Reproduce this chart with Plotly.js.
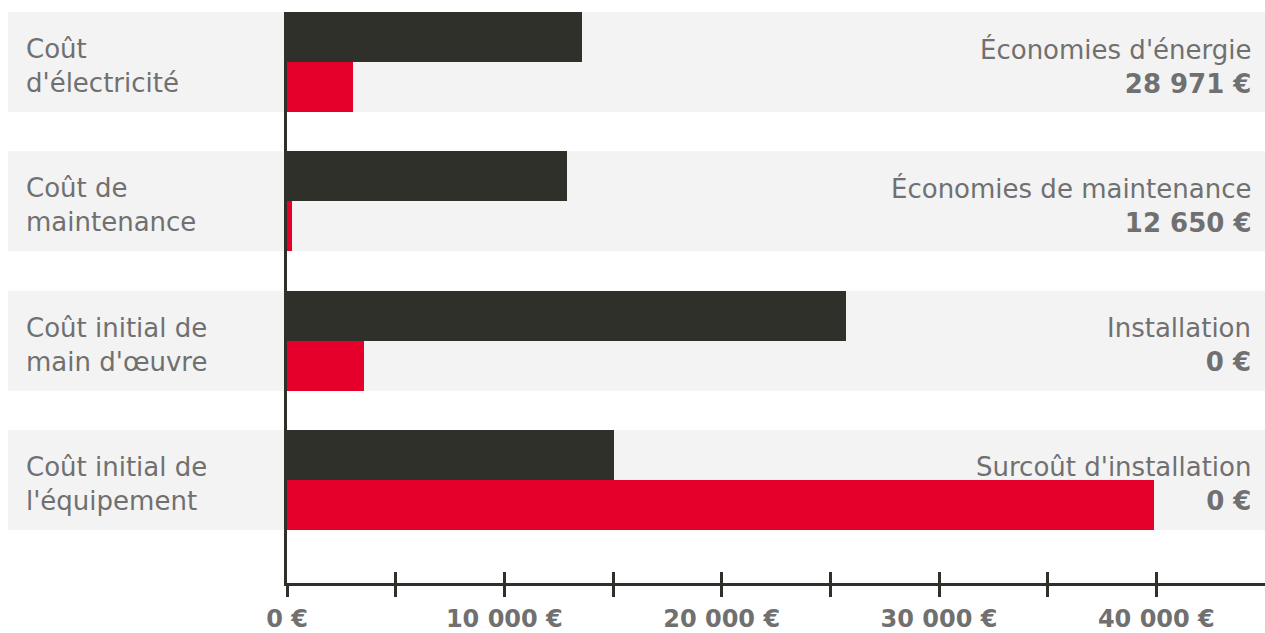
<!DOCTYPE html>
<html>
<head>
<meta charset="utf-8">
<script src="https://cdn.plot.ly/plotly-3.0.1.min.js"></script>
<style>html,body{margin:0;padding:0;background:#fff;}#chart{width:1265px;height:633px;}</style>
</head>
<body>
<div id="chart"></div>
<script>
// ---- data ----
const categories = ["Coût<br>d'électricité", "Coût de<br>maintenance", "Coût initial de<br>main d'œuvre", "Coût initial de<br>l'équipement"];
const darkValues = [13560, 12900, 25700, 15030];
const redValues = [3030, 250, 3540, 39900];
const savingTitles = ["Économies d'énergie", "Économies de maintenance", "Installation", "Surcoût d'installation"];
const savingValues = ["28 971 €", "12 650 €", "0 €", "0 €"];
const tickValues = [0, 5000, 10000, 15000, 20000, 25000, 30000, 35000, 40000];
const tickLabels = ["0 €", "", "10 000 €", "", "20 000 €", "", "30 000 €", "", "40 000 €"];

// ---- layout helpers ----
const W = 1265, H = 633, ML = 287, MR = 0, MT = 12, MB = 50;
const px2paper = px => (px - ML) / (W - ML - MR);
const unit = 139.33;           // px per category step
const barW = 50 / unit;        // one bar thickness in y units
const pos = categories.map((c, i) => i);
const FONT = "DejaVu Sans";
const DARK = "#30302b", RED = "#e4002b", GREY = "#707070", BAND = "#f3f3f3";

const traces = [
  {type: 'bar', orientation: 'h', y: pos, x: darkValues, width: barW, offset: -barW,
   marker: {color: DARK}, hoverinfo: 'x', showlegend: false},
  {type: 'bar', orientation: 'h', y: pos, x: redValues, width: barW, offset: 0,
   marker: {color: RED}, hoverinfo: 'x', showlegend: false},
  {type: 'scatter', x: [null], y: [null], xaxis: 'x2', yaxis: 'y', showlegend: false, hoverinfo: 'skip'}
];

const shapes = pos.map(p => ({
  type: 'rect', layer: 'below', xref: 'paper', yref: 'y',
  x0: px2paper(8), x1: 1, y0: p - barW, y1: p + barW,
  fillcolor: BAND, line: {width: 0}
}));

const annotations = [];
pos.forEach((p, i) => {
  annotations.push({
    xref: 'paper', yref: 'y', x: px2paper(24), y: p + 4 / unit,
    xanchor: 'left', yanchor: 'middle', align: 'left', showarrow: false,
    text: categories[i], font: {family: FONT, size: 26, color: GREY}
  });
  annotations.push({
    xref: 'paper', yref: 'y', x: px2paper(1253), y: p + 4 / unit,
    xanchor: 'right', yanchor: 'middle', align: 'right', showarrow: false,
    text: savingTitles[i] + '<br><b>' + savingValues[i] + '</b>',
    font: {family: FONT, size: 26, color: GREY}
  });
});

const layout = {
  width: W, height: H,
  margin: {l: ML, r: MR, t: MT, b: MB, pad: 0},
  paper_bgcolor: '#fff', plot_bgcolor: 'rgba(0,0,0,0)',
  barmode: 'overlay', bargap: 0,
  xaxis: {range: [0, 45000], tickvals: tickValues, ticktext: tickLabels,
          ticks: 'outside', ticklen: 11, tickwidth: 3, tickcolor: DARK, ticklabelstandoff: 1,
          showline: true, linecolor: DARK, linewidth: 3, showgrid: false, zeroline: false,
          tickfont: {family: FONT, size: 24, color: GREY, weight: 'bold'}, fixedrange: true},
  xaxis2: {range: [0, 45000], overlaying: 'x', anchor: 'y', side: 'bottom', tickvals: tickValues,
           ticks: 'inside', ticklen: 11, tickwidth: 3, tickcolor: DARK, showticklabels: false,
           showline: false, showgrid: false, zeroline: false},
  yaxis: {range: [(583 - 62) / unit, (12 - 62) / unit], showticklabels: false, ticks: '',
          showline: true, linecolor: DARK, linewidth: 3, showgrid: false, zeroline: false, fixedrange: true},
  shapes: shapes,
  annotations: annotations,
  font: {family: FONT}
};

Plotly.newPlot('chart', traces, layout, {displayModeBar: false, staticPlot: true});
</script>
</body>
</html>
